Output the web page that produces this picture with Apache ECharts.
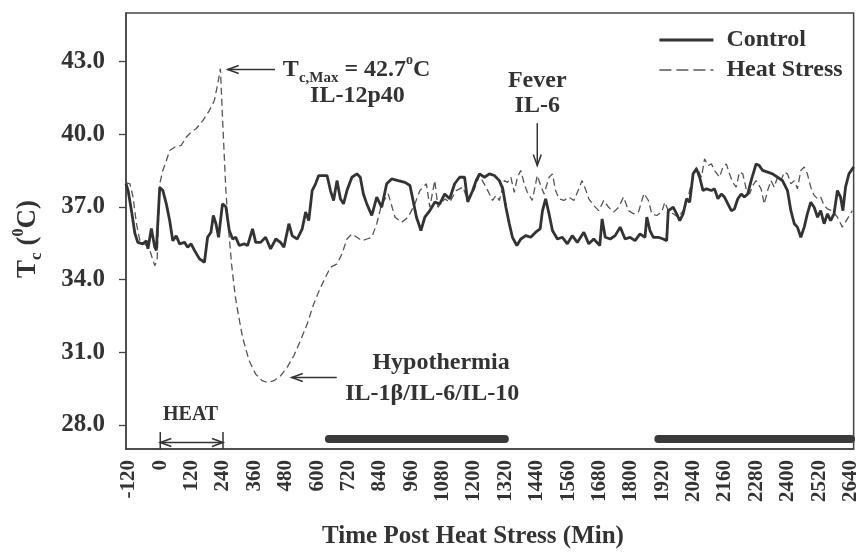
<!DOCTYPE html>
<html><head><meta charset="utf-8">
<script src="https://cdn.jsdelivr.net/npm/echarts@6/dist/echarts.min.js"></script>
<style>html,body{margin:0;padding:0;background:#fff}#c{width:861px;height:555px}</style>
</head><body><div id="c"></div>
<script>
// ---------- data ----------
const xTicks = [-120,0,120,240,360,480,600,720,840,960,1080,1200,1320,1440,1560,1680,1800,1920,2040,2160,2280,2400,2520,2640];
const yTicks = [28,31,34,37,40,43];

const controlTime = [-131,-123,-110,-97,-86,-67,-53,-47,-34,-21,-15,-2,10,23,36,48,61,74,93,105,118,131,150,169,181,194,203,213,223,238,251,264,277,289,302,321,334,353,365,384,403,422,442,460,473,492,505,524,543,556,568,581,594,606,625,638,651,663,676,689,701,714,733,752,765,777,790,809,828,847,866,885,910,936,955,967,980,997,1012,1031,1050,1069,1088,1107,1126,1145,1164,1176,1195,1208,1221,1240,1259,1278,1297,1310,1322,1335,1347,1364,1379,1398,1417,1436,1453,1462,1474,1487,1500,1519,1538,1557,1576,1595,1620,1639,1658,1681,1690,1702,1721,1740,1759,1778,1797,1816,1835,1854,1861,1873,1886,1905,1924,1937,1943,1962,1975,1987,2000,2013,2025,2038,2051,2063,2076,2089,2108,2120,2133,2146,2158,2171,2184,2196,2209,2222,2234,2247,2260,2279,2291,2304,2323,2342,2361,2380,2399,2412,2425,2437,2450,2463,2475,2488,2501,2514,2526,2539,2552,2564,2577,2590,2602,2611,2621,2634,2652];
const controlTemp = [37.95,37.67,36.84,35.9,35.53,35.47,35.6,35.27,36.1,35.33,35.2,37.8,37.67,37.13,36.43,35.6,35.8,35.47,35.53,35.33,35.47,35.2,34.85,34.71,35.74,35.95,36.64,36.3,35.74,37.12,37.0,36.02,35.67,35.74,35.4,35.47,35.4,36.09,35.53,35.53,35.74,35.26,35.67,35.53,35.33,36.3,35.8,35.67,36.09,36.78,36.43,37.67,37.95,38.29,38.29,38.29,37.67,37.26,38.08,37.33,37.12,37.67,38.22,38.36,38.22,37.53,37.12,36.64,37.4,36.98,37.95,38.15,38.08,38.01,37.88,37.26,36.57,36.02,36.57,36.84,37.19,37.12,37.53,37.33,37.95,38.22,38.22,37.2,37.67,38.08,38.36,38.22,38.36,38.29,38.08,37.74,36.98,36.3,35.74,35.4,35.67,35.81,35.74,35.95,36.09,36.84,37.33,36.71,36.02,35.67,35.74,35.47,35.81,35.53,35.95,35.47,35.67,35.4,36.5,35.74,35.67,35.81,36.16,35.67,35.74,35.6,35.88,35.74,36.57,36.02,35.74,35.74,35.67,35.6,36.84,36.98,36.71,36.43,36.71,37.33,37.19,38.36,38.57,38.22,37.67,37.74,37.67,37.74,37.33,37.53,37.4,37.12,36.84,36.91,37.33,37.53,37.4,37.53,38.08,38.77,38.7,38.5,38.43,38.36,38.22,38.08,37.67,36.84,36.3,36.16,35.74,36.16,36.71,37.19,36.98,36.57,36.84,36.3,36.71,36.43,36.71,37.67,37.4,36.84,37.81,38.36,38.64];

const heatTime = [-131,-116,-104,-91,-78,-59,-40,-21,-12,-2,10,23,36,55,80,99,118,137,163,188,207,220,230,238,251,262,273,287,296,315,340,365,390,409,435,460,485,511,536,562,587,613,632,651,676,695,714,733,752,771,790,809,828,847,872,898,923,948,974,993,1018,1031,1050,1062,1088,1107,1132,1158,1176,1202,1221,1246,1259,1271,1284,1297,1316,1328,1341,1354,1366,1379,1392,1404,1423,1442,1455,1468,1487,1500,1512,1525,1544,1563,1582,1601,1613,1626,1639,1658,1677,1696,1715,1734,1753,1772,1791,1810,1829,1850,1867,1880,1899,1918,1930,1943,1962,1981,2000,2019,2031,2051,2070,2082,2095,2108,2120,2139,2152,2165,2177,2190,2203,2215,2228,2241,2254,2266,2279,2298,2310,2323,2336,2348,2361,2374,2387,2399,2412,2425,2437,2450,2463,2475,2488,2501,2514,2526,2539,2552,2570,2590,2609,2628,2647];
const heatTemp = [38.0,37.95,37.4,36.3,35.6,35.47,35.2,34.57,34.78,37.95,38.5,38.9,39.32,39.46,39.53,39.87,40.08,40.22,40.56,40.98,41.39,42.08,42.7,40.7,37.67,36.0,34.6,33.3,32.71,31.6,30.64,30.09,29.82,29.75,29.82,30.02,30.37,30.85,31.47,32.16,32.99,33.67,34.09,34.5,34.64,35.05,35.67,35.88,35.74,35.6,35.67,35.74,36.3,37.12,37.53,36.57,36.36,36.57,37.12,37.67,37.95,36.98,38.08,36.98,37.33,37.19,37.67,37.81,37.25,37.74,38.29,37.81,37.53,37.26,37.47,37.26,38.08,38.01,38.22,37.6,38.22,38.5,37.95,37.6,37.26,38.29,37.88,37.53,38.22,38.36,37.67,37.33,37.26,37.4,37.26,37.74,38.08,37.74,37.33,37.05,36.84,37.26,36.98,36.78,36.98,37.4,36.84,36.71,36.78,37.55,37.26,36.71,36.64,36.78,37.19,36.84,36.71,36.57,36.84,37.4,37.95,38.64,38.22,38.98,38.7,38.77,38.5,38.22,38.64,38.77,38.36,38.01,37.81,38.43,38.36,37.74,37.53,37.88,38.08,37.74,37.12,37.67,38.08,37.81,38.22,38.08,38.43,38.36,37.95,38.08,37.74,38.5,38.64,38.36,37.81,37.47,37.33,37.4,37.05,36.91,36.84,36.57,36.16,36.5,36.84];

const darkPhases = [[645,1318],[1905,2642]];   // minutes
const heatPeriod = [0,240];                      // minutes
const tcMax = 42.7;

// ---------- styles ----------
const FONT = '"Liberation Serif","Times New Roman",serif';
const INK = '#333';
const AX = '#444';

const chart = echarts.init(document.getElementById('c'));
const pair = (ts, vs) => ts.map((t, i) => [t, vs[i]]);

chart.setOption({
  animation: false,
  backgroundColor: '#fff',
  grid: {left: 126, right: 3, top: 13, bottom: 106, show: true, borderColor: AX, borderWidth: 1.5},
  xAxis: {
    type: 'value', min: -131, max: 2652,
    axisLine: {show: true, onZero: false, lineStyle: {color: AX, width: 1.5}},
    axisTick: {show: false}, splitLine: {show: false},
    axisLabel: {customValues: xTicks, rotate: 90, margin: 11, formatter: v => String(v),
      fontFamily: FONT, fontWeight: 'bold', fontSize: 21, color: INK}
  },
  yAxis: {
    type: 'value', min: 27, max: 45,
    axisLine: {show: true, onZero: false, lineStyle: {color: AX, width: 1.5}},
    axisTick: {show: true, customValues: yTicks, length: 7, lineStyle: {color: AX, width: 1.3}},
    splitLine: {show: false},
    axisLabel: {customValues: yTicks, margin: 21, formatter: v => v.toFixed(1), fontFamily: FONT, fontWeight: 'bold', fontSize: 25, color: INK}
  },
  legend: {
    orient: 'vertical', left: 653, top: 23, itemWidth: 54, itemHeight: 12, itemGap: 6,
    textStyle: {fontFamily: FONT, fontWeight: 'bold', fontSize: 24, color: INK, padding: [0, 0, 0, 8]},
    data: [
      {name: 'Control', lineStyle: {width: 2.8}, itemStyle: {opacity: 0}},
      {name: 'Heat Stress', lineStyle: {width: 1.5, type: [12, 5]}, itemStyle: {opacity: 0}}
    ]
  },
  series: [
    {
      name: 'Heat Stress', type: 'line', data: pair(heatTime, heatTemp), symbol: 'none', z: 2,
      lineStyle: {color: '#555', width: 1.3, type: [7, 4]}, itemStyle: {color: '#555'}
    },
    {
      name: 'Control', type: 'line', data: pair(controlTime, controlTemp), symbol: 'none', z: 3,
      lineStyle: {color: '#333', width: 2.8}, itemStyle: {color: '#333'},
      markLine: {
        silent: true, symbol: 'none', label: {show: false},
        lineStyle: {color: '#3a3a3a', width: 8, type: 'solid', cap: 'round'},
        emphasis: {disabled: true},
        data: darkPhases.map(p => [{coord: [p[0], 27.42]}, {coord: [p[1], 27.42]}])
      }
    }
  ]
});

// ---------- annotations (placed in data coordinates) ----------
const px = (t, v) => chart.convertToPixel({gridIndex: 0}, [t, v]);
const G = [];
const stroke = {stroke: INK, lineWidth: 1.5, fill: null};
function line(a, b) { G.push({type: 'polyline', shape: {points: [a, b]}, style: stroke, z: 10}); }
function headLeft(p) { G.push({type: 'polyline', shape: {points: [[p[0] + 11, p[1] - 4], p, [p[0] + 11, p[1] + 4]]}, style: stroke, z: 10}); }
function headRight(p) { G.push({type: 'polyline', shape: {points: [[p[0] - 11, p[1] - 4], p, [p[0] - 11, p[1] + 4]]}, style: stroke, z: 10}); }
function headDown(p) { G.push({type: 'polyline', shape: {points: [[p[0] - 4, p[1] - 11], p, [p[0] + 4, p[1] - 11]]}, style: stroke, z: 10}); }
function text(p, str, rich, align, size) {
  G.push({type: 'text', x: p[0], y: p[1], z: 10, style: {
    text: str, rich: rich || {}, fill: INK, font: 'bold ' + (size || 24) + 'px ' + FONT,
    align: align || 'center', verticalAlign: 'middle'}});
}
const base = {fontSize: 24, fontFamily: FONT, fontWeight: 'bold', fill: INK, lineHeight: 32};
const sub = {fontSize: 15, fontFamily: FONT, fontWeight: 'bold', fill: INK, lineHeight: 15, verticalAlign: 'bottom'};
const sup = {fontSize: 14, fontFamily: FONT, fontWeight: 'bold', fill: INK, lineHeight: 14, verticalAlign: 'top'};

// T c,Max
const tipMax = px(258, 42.67), tailMax = px(439, 42.67);
line(tipMax, tailMax); headLeft(tipMax);
text(px(469, 42.67), '{b|T}{s|c,Max}{b| = ' + tcMax.toFixed(1) + '}{p|o}{b|C}', {b: base, s: sub, p: sup}, 'left');
text(px(754, 41.6), 'IL-12p40');

// Fever
text(px(1442, 42.2), 'Fever');
text(px(1442, 41.15), 'IL-6');
const fvTop = px(1442, 40.45), fvTip = px(1442, 38.7);
line(fvTop, fvTip); headDown(fvTip);

// Hypothermia
text(px(1074, 30.57), 'Hypothermia');
text(px(1040, 29.29), 'IL-1\u03B2/IL-6/IL-10');
const hyTip = px(503, 29.95), hyTail = px(675, 29.95);
line(hyTip, hyTail); headLeft(hyTip);

// HEAT
text(px(116, 28.43), 'HEAT', null, 'center', 20);
const h1 = px(heatPeriod[0], 27.27), h2 = px(heatPeriod[1], 27.27);
line(h1, h2); headLeft(h1); headRight(h2);
line(px(heatPeriod[0], 27.7), px(heatPeriod[0], 27.0));
line(px(heatPeriod[1], 27.7), px(heatPeriod[1], 27.0));

// axis titles
G.push({type: 'text', x: 473, y: 537, z: 10, style: {text: 'Time Post Heat Stress (Min)', fill: INK,
  font: 'bold 25px ' + FONT, align: 'center', verticalAlign: 'middle'}});
G.push({type: 'text', x: 28, y: 239, rotation: Math.PI / 2, z: 10, style: {
  text: '{b|T}{s|c}{b| (}{p|0}{b|C)}', align: 'center', verticalAlign: 'middle', fill: INK,
  rich: {b: {fontSize: 27, fontFamily: FONT, fontWeight: 'bold', fill: INK, lineHeight: 34},
         s: {fontSize: 17, fontFamily: FONT, fontWeight: 'bold', fill: INK, lineHeight: 17, verticalAlign: 'bottom'},
         p: {fontSize: 16, fontFamily: FONT, fontWeight: 'bold', fill: INK, lineHeight: 16, verticalAlign: 'top'}}}});

chart.setOption({graphic: G});
</script></body></html>
